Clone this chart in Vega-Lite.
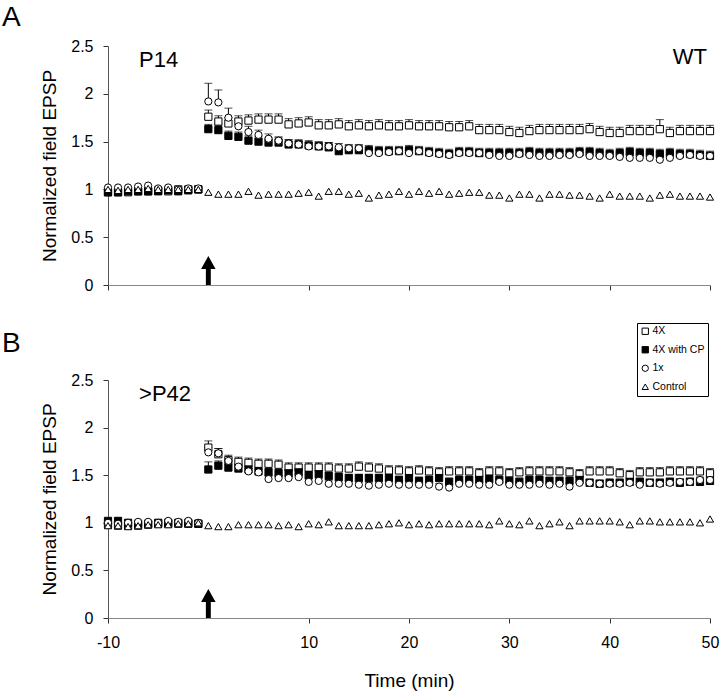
{
"$schema":"https://vega.github.io/schema/vega-lite/v6.json",
"padding":{"left":2,"top":4,"right":4,"bottom":4},
"config":{"font":"Liberation Sans","view":{"stroke":null},
"axis":{"grid":false,"domainColor":"#555","tickColor":"#333","labelColor":"black","titleColor":"black","titleFontWeight":"normal","labelFontSize":16,"titleFontSize":19,"tickSize":5,"labelFont":"Liberation Sans","titleFont":"Liberation Sans","labelFlush":false},
"title":{"fontWeight":"normal","color":"black","font":"Liberation Sans"},
"legend":{"labelFontSize":10.5,"symbolSize":40,"rowPadding":7.5,"padding":3,"strokeColor":"black","fillColor":"white","labelOffset":2,"symbolStrokeWidth":1,"symbolStrokeColor":"black","labelColor":"black","labelFont":"Liberation Sans"}},
"resolve":{"scale":{"shape":"independent","fill":"independent","stroke":"independent"},"legend":{"shape":"independent","fill":"independent","stroke":"independent"}},
"spacing":29,
"datasets":{
"A":[
{"s":"4X","t":-10,"v":0.97},{"s":"4X","t":-9,"v":0.97},{"s":"4X","t":-8,"v":0.97},{"s":"4X","t":-7,"v":0.98},{"s":"4X","t":-6,"v":0.98},{"s":"4X","t":-5,"v":0.99},{"s":"4X","t":-4,"v":0.98},{"s":"4X","t":-3,"v":1.00},{"s":"4X","t":-2,"v":1.00},{"s":"4X","t":-1,"v":1.00},
{"s":"4X","t":0,"v":1.76,"h":1.83},{"s":"4X","t":1,"v":1.71,"h":1.77},{"s":"4X","t":2,"v":1.69,"h":1.75},{"s":"4X","t":3,"v":1.71,"h":1.77},{"s":"4X","t":4,"v":1.72,"h":1.78},{"s":"4X","t":5,"v":1.73,"h":1.79},{"s":"4X","t":6,"v":1.73,"h":1.79},{"s":"4X","t":7,"v":1.73,"h":1.79},{"s":"4X","t":8,"v":1.68,"h":1.74},{"s":"4X","t":9,"v":1.69,"h":1.75},{"s":"4X","t":10,"v":1.70,"h":1.76},{"s":"4X","t":11,"v":1.67,"h":1.73},{"s":"4X","t":12,"v":1.67,"h":1.73},{"s":"4X","t":13,"v":1.68,"h":1.74},{"s":"4X","t":14,"v":1.66,"h":1.72},{"s":"4X","t":15,"v":1.67,"h":1.73},
{"s":"4X","t":16,"v":1.66,"h":1.72},{"s":"4X","t":17,"v":1.67,"h":1.73},{"s":"4X","t":18,"v":1.66,"h":1.72},{"s":"4X","t":19,"v":1.66,"h":1.72},{"s":"4X","t":20,"v":1.67,"h":1.73},{"s":"4X","t":21,"v":1.66,"h":1.72},{"s":"4X","t":22,"v":1.66,"h":1.72},{"s":"4X","t":23,"v":1.66,"h":1.72},{"s":"4X","t":24,"v":1.65,"h":1.71},{"s":"4X","t":25,"v":1.65,"h":1.71},{"s":"4X","t":26,"v":1.66,"h":1.72},{"s":"4X","t":27,"v":1.62,"h":1.68},{"s":"4X","t":28,"v":1.62,"h":1.68},{"s":"4X","t":29,"v":1.62,"h":1.68},{"s":"4X","t":30,"v":1.60,"h":1.66},{"s":"4X","t":31,"v":1.59,"h":1.65},{"s":"4X","t":32,"v":1.61,"h":1.67},{"s":"4X","t":33,"v":1.62,"h":1.68},{"s":"4X","t":34,"v":1.62,"h":1.68},{"s":"4X","t":35,"v":1.62,"h":1.68},{"s":"4X","t":36,"v":1.62,"h":1.68},{"s":"4X","t":37,"v":1.62,"h":1.68},{"s":"4X","t":38,"v":1.63,"h":1.69},{"s":"4X","t":39,"v":1.60,"h":1.66},{"s":"4X","t":40,"v":1.59,"h":1.65},{"s":"4X","t":41,"v":1.59,"h":1.65},{"s":"4X","t":42,"v":1.61,"h":1.67},{"s":"4X","t":43,"v":1.61,"h":1.67},{"s":"4X","t":44,"v":1.61,"h":1.67},{"s":"4X","t":45,"v":1.63,"h":1.73},{"s":"4X","t":46,"v":1.59,"h":1.65},{"s":"4X","t":47,"v":1.61,"h":1.67},{"s":"4X","t":48,"v":1.61,"h":1.67},{"s":"4X","t":49,"v":1.61,"h":1.67},{"s":"4X","t":50,"v":1.61,"h":1.67},
{"s":"4X with CP","t":-10,"v":0.97},{"s":"4X with CP","t":-9,"v":0.97},{"s":"4X with CP","t":-8,"v":0.98},{"s":"4X with CP","t":-7,"v":0.98},{"s":"4X with CP","t":-6,"v":0.98},{"s":"4X with CP","t":-5,"v":0.98},{"s":"4X with CP","t":-4,"v":0.99},{"s":"4X with CP","t":-3,"v":0.98},{"s":"4X with CP","t":-2,"v":0.99},{"s":"4X with CP","t":-1,"v":1.00},
{"s":"4X with CP","t":0,"v":1.63,"h":1.68},{"s":"4X with CP","t":1,"v":1.62,"h":1.67},{"s":"4X with CP","t":2,"v":1.56,"h":1.61},{"s":"4X with CP","t":3,"v":1.55,"h":1.60},{"s":"4X with CP","t":4,"v":1.51,"h":1.56},{"s":"4X with CP","t":5,"v":1.50,"h":1.55},{"s":"4X with CP","t":6,"v":1.49,"h":1.54},{"s":"4X with CP","t":7,"v":1.49,"h":1.54},{"s":"4X with CP","t":8,"v":1.47,"h":1.52},{"s":"4X with CP","t":9,"v":1.47,"h":1.52},{"s":"4X with CP","t":10,"v":1.46,"h":1.51},{"s":"4X with CP","t":11,"v":1.45,"h":1.50},{"s":"4X with CP","t":12,"v":1.44,"h":1.49},{"s":"4X with CP","t":13,"v":1.40,"h":1.45},{"s":"4X with CP","t":14,"v":1.41,"h":1.46},{"s":"4X with CP","t":15,"v":1.41,"h":1.46},
{"s":"4X with CP","t":16,"v":1.41,"h":1.46},{"s":"4X with CP","t":17,"v":1.40,"h":1.45},{"s":"4X with CP","t":18,"v":1.40,"h":1.45},{"s":"4X with CP","t":19,"v":1.40,"h":1.45},{"s":"4X with CP","t":20,"v":1.41,"h":1.46},{"s":"4X with CP","t":21,"v":1.40,"h":1.45},{"s":"4X with CP","t":22,"v":1.39,"h":1.44},{"s":"4X with CP","t":23,"v":1.38,"h":1.43},{"s":"4X with CP","t":24,"v":1.37,"h":1.42},{"s":"4X with CP","t":25,"v":1.39,"h":1.44},{"s":"4X with CP","t":26,"v":1.39,"h":1.44},{"s":"4X with CP","t":27,"v":1.38,"h":1.43},{"s":"4X with CP","t":28,"v":1.38,"h":1.43},{"s":"4X with CP","t":29,"v":1.38,"h":1.43},{"s":"4X with CP","t":30,"v":1.38,"h":1.43},{"s":"4X with CP","t":31,"v":1.38,"h":1.43},{"s":"4X with CP","t":32,"v":1.39,"h":1.44},{"s":"4X with CP","t":33,"v":1.38,"h":1.43},{"s":"4X with CP","t":34,"v":1.38,"h":1.43},{"s":"4X with CP","t":35,"v":1.38,"h":1.43},{"s":"4X with CP","t":36,"v":1.38,"h":1.43},{"s":"4X with CP","t":37,"v":1.39,"h":1.44},{"s":"4X with CP","t":38,"v":1.39,"h":1.44},{"s":"4X with CP","t":39,"v":1.38,"h":1.43},{"s":"4X with CP","t":40,"v":1.37,"h":1.42},{"s":"4X with CP","t":41,"v":1.38,"h":1.43},{"s":"4X with CP","t":42,"v":1.39,"h":1.44},{"s":"4X with CP","t":43,"v":1.38,"h":1.43},{"s":"4X with CP","t":44,"v":1.38,"h":1.43},{"s":"4X with CP","t":45,"v":1.37,"h":1.42},{"s":"4X with CP","t":46,"v":1.38,"h":1.43},{"s":"4X with CP","t":47,"v":1.37,"h":1.42},{"s":"4X with CP","t":48,"v":1.37,"h":1.42},{"s":"4X with CP","t":49,"v":1.36,"h":1.41},{"s":"4X with CP","t":50,"v":1.35,"h":1.40},
{"s":"1x","t":-10,"v":1.02},{"s":"1x","t":-9,"v":1.02},{"s":"1x","t":-8,"v":1.02},{"s":"1x","t":-7,"v":1.03},{"s":"1x","t":-6,"v":1.04},{"s":"1x","t":-5,"v":1.01},{"s":"1x","t":-4,"v":1.02},{"s":"1x","t":-3,"v":1.00},{"s":"1x","t":-2,"v":1.01},{"s":"1x","t":-1,"v":1.01},
{"s":"1x","t":0,"v":1.92,"h":2.11},{"s":"1x","t":1,"v":1.91,"h":2.04},{"s":"1x","t":2,"v":1.75,"h":1.85},{"s":"1x","t":3,"v":1.66,"h":1.72},{"s":"1x","t":4,"v":1.60,"h":1.66},{"s":"1x","t":5,"v":1.57,"h":1.62},{"s":"1x","t":6,"v":1.53,"h":1.58},{"s":"1x","t":7,"v":1.51,"h":1.55},{"s":"1x","t":8,"v":1.48,"h":1.52},{"s":"1x","t":9,"v":1.47,"h":1.51},{"s":"1x","t":10,"v":1.45,"h":1.49},{"s":"1x","t":11,"v":1.45,"h":1.49},{"s":"1x","t":12,"v":1.45,"h":1.49},{"s":"1x","t":13,"v":1.44,"h":1.48},{"s":"1x","t":14,"v":1.43,"h":1.47},{"s":"1x","t":15,"v":1.43,"h":1.47},
{"s":"1x","t":16,"v":1.38,"h":1.42},{"s":"1x","t":17,"v":1.38,"h":1.42},{"s":"1x","t":18,"v":1.39,"h":1.43},{"s":"1x","t":19,"v":1.40,"h":1.44},{"s":"1x","t":20,"v":1.38,"h":1.42},{"s":"1x","t":21,"v":1.40,"h":1.44},{"s":"1x","t":22,"v":1.38,"h":1.42},{"s":"1x","t":23,"v":1.37,"h":1.41},{"s":"1x","t":24,"v":1.36,"h":1.40},{"s":"1x","t":25,"v":1.38,"h":1.42},{"s":"1x","t":26,"v":1.38,"h":1.42},{"s":"1x","t":27,"v":1.38,"h":1.42},{"s":"1x","t":28,"v":1.36,"h":1.40},{"s":"1x","t":29,"v":1.35,"h":1.39},{"s":"1x","t":30,"v":1.35,"h":1.39},{"s":"1x","t":31,"v":1.37,"h":1.41},{"s":"1x","t":32,"v":1.36,"h":1.40},{"s":"1x","t":33,"v":1.35,"h":1.39},{"s":"1x","t":34,"v":1.35,"h":1.39},{"s":"1x","t":35,"v":1.36,"h":1.40},{"s":"1x","t":36,"v":1.36,"h":1.40},{"s":"1x","t":37,"v":1.37,"h":1.41},{"s":"1x","t":38,"v":1.35,"h":1.39},{"s":"1x","t":39,"v":1.35,"h":1.39},{"s":"1x","t":40,"v":1.35,"h":1.39},{"s":"1x","t":41,"v":1.34,"h":1.38},{"s":"1x","t":42,"v":1.33,"h":1.37},{"s":"1x","t":43,"v":1.33,"h":1.37},{"s":"1x","t":44,"v":1.33,"h":1.37},{"s":"1x","t":45,"v":1.31,"h":1.35},{"s":"1x","t":46,"v":1.33,"h":1.37},{"s":"1x","t":47,"v":1.35,"h":1.39},{"s":"1x","t":48,"v":1.36,"h":1.40},{"s":"1x","t":49,"v":1.35,"h":1.39},{"s":"1x","t":50,"v":1.35,"h":1.39},
{"s":"Control","t":-10,"v":1.00},{"s":"Control","t":-9,"v":0.99},{"s":"Control","t":-8,"v":1.00},{"s":"Control","t":-7,"v":1.00},{"s":"Control","t":-6,"v":1.01},{"s":"Control","t":-5,"v":1.00},{"s":"Control","t":-4,"v":1.00},{"s":"Control","t":-3,"v":1.00},{"s":"Control","t":-2,"v":1.00},{"s":"Control","t":-1,"v":1.00},
{"s":"Control","t":0,"v":0.97},{"s":"Control","t":1,"v":0.95},{"s":"Control","t":2,"v":0.95},{"s":"Control","t":3,"v":0.95},{"s":"Control","t":4,"v":0.98},{"s":"Control","t":5,"v":0.94},{"s":"Control","t":6,"v":0.95},{"s":"Control","t":7,"v":0.95},{"s":"Control","t":8,"v":0.95},{"s":"Control","t":9,"v":0.96},{"s":"Control","t":10,"v":0.97},{"s":"Control","t":11,"v":0.93},{"s":"Control","t":12,"v":0.98},{"s":"Control","t":13,"v":0.98},{"s":"Control","t":14,"v":0.95},{"s":"Control","t":15,"v":0.96},
{"s":"Control","t":16,"v":0.91},{"s":"Control","t":17,"v":0.94},{"s":"Control","t":18,"v":0.95},{"s":"Control","t":19,"v":0.98},{"s":"Control","t":20,"v":0.95},{"s":"Control","t":21,"v":0.98},{"s":"Control","t":22,"v":0.96},{"s":"Control","t":23,"v":0.98},{"s":"Control","t":24,"v":0.95},{"s":"Control","t":25,"v":0.96},{"s":"Control","t":26,"v":0.97},{"s":"Control","t":27,"v":0.97},{"s":"Control","t":28,"v":0.94},{"s":"Control","t":29,"v":0.94},{"s":"Control","t":30,"v":0.91},{"s":"Control","t":31,"v":0.95},{"s":"Control","t":32,"v":0.95},{"s":"Control","t":33,"v":0.91},{"s":"Control","t":34,"v":0.95},{"s":"Control","t":35,"v":0.95},{"s":"Control","t":36,"v":0.94},{"s":"Control","t":37,"v":0.94},{"s":"Control","t":38,"v":0.93},{"s":"Control","t":39,"v":0.91},{"s":"Control","t":40,"v":0.95},{"s":"Control","t":41,"v":0.93},{"s":"Control","t":42,"v":0.93},{"s":"Control","t":43,"v":0.93},{"s":"Control","t":44,"v":0.91},{"s":"Control","t":45,"v":0.94},{"s":"Control","t":46,"v":0.95},{"s":"Control","t":47,"v":0.93},{"s":"Control","t":48,"v":0.93},{"s":"Control","t":49,"v":0.93},{"s":"Control","t":50,"v":0.92}
],
"B":[
{"s":"4X","t":-10,"v":0.98},{"s":"4X","t":-9,"v":0.97},{"s":"4X","t":-8,"v":0.97},{"s":"4X","t":-7,"v":0.97},{"s":"4X","t":-6,"v":0.98},{"s":"4X","t":-5,"v":0.99},{"s":"4X","t":-4,"v":0.99},{"s":"4X","t":-3,"v":0.99},{"s":"4X","t":-2,"v":1.00},{"s":"4X","t":-1,"v":0.99},
{"s":"4X","t":0,"v":1.79,"h":1.86},{"s":"4X","t":1,"v":1.72,"h":1.78},{"s":"4X","t":2,"v":1.66,"h":1.71},{"s":"4X","t":3,"v":1.64,"h":1.69},{"s":"4X","t":4,"v":1.63,"h":1.68},{"s":"4X","t":5,"v":1.62,"h":1.67},{"s":"4X","t":6,"v":1.62,"h":1.67},{"s":"4X","t":7,"v":1.61,"h":1.66},{"s":"4X","t":8,"v":1.58,"h":1.63},{"s":"4X","t":9,"v":1.58,"h":1.63},{"s":"4X","t":10,"v":1.58,"h":1.63},{"s":"4X","t":11,"v":1.58,"h":1.63},{"s":"4X","t":12,"v":1.58,"h":1.63},{"s":"4X","t":13,"v":1.57,"h":1.62},{"s":"4X","t":14,"v":1.57,"h":1.62},{"s":"4X","t":15,"v":1.59,"h":1.64},
{"s":"4X","t":16,"v":1.58,"h":1.63},{"s":"4X","t":17,"v":1.57,"h":1.62},{"s":"4X","t":18,"v":1.55,"h":1.60},{"s":"4X","t":19,"v":1.55,"h":1.60},{"s":"4X","t":20,"v":1.54,"h":1.59},{"s":"4X","t":21,"v":1.55,"h":1.60},{"s":"4X","t":22,"v":1.54,"h":1.59},{"s":"4X","t":23,"v":1.53,"h":1.58},{"s":"4X","t":24,"v":1.54,"h":1.59},{"s":"4X","t":25,"v":1.54,"h":1.59},{"s":"4X","t":26,"v":1.54,"h":1.59},{"s":"4X","t":27,"v":1.52,"h":1.57},{"s":"4X","t":28,"v":1.54,"h":1.59},{"s":"4X","t":29,"v":1.54,"h":1.59},{"s":"4X","t":30,"v":1.52,"h":1.57},{"s":"4X","t":31,"v":1.53,"h":1.58},{"s":"4X","t":32,"v":1.54,"h":1.59},{"s":"4X","t":33,"v":1.54,"h":1.59},{"s":"4X","t":34,"v":1.54,"h":1.59},{"s":"4X","t":35,"v":1.54,"h":1.59},{"s":"4X","t":36,"v":1.53,"h":1.58},{"s":"4X","t":37,"v":1.51,"h":1.56},{"s":"4X","t":38,"v":1.54,"h":1.59},{"s":"4X","t":39,"v":1.54,"h":1.59},{"s":"4X","t":40,"v":1.54,"h":1.59},{"s":"4X","t":41,"v":1.52,"h":1.57},{"s":"4X","t":42,"v":1.50,"h":1.55},{"s":"4X","t":43,"v":1.53,"h":1.58},{"s":"4X","t":44,"v":1.53,"h":1.58},{"s":"4X","t":45,"v":1.53,"h":1.58},{"s":"4X","t":46,"v":1.54,"h":1.59},{"s":"4X","t":47,"v":1.54,"h":1.59},{"s":"4X","t":48,"v":1.54,"h":1.59},{"s":"4X","t":49,"v":1.54,"h":1.59},{"s":"4X","t":50,"v":1.52,"h":1.57},
{"s":"4X with CP","t":-10,"v":1.02},{"s":"4X with CP","t":-9,"v":1.02},{"s":"4X with CP","t":-8,"v":1.00},{"s":"4X with CP","t":-7,"v":0.99},{"s":"4X with CP","t":-6,"v":0.99},{"s":"4X with CP","t":-5,"v":1.00},{"s":"4X with CP","t":-4,"v":1.00},{"s":"4X with CP","t":-3,"v":1.00},{"s":"4X with CP","t":-2,"v":0.99},{"s":"4X with CP","t":-1,"v":0.99},
{"s":"4X with CP","t":0,"v":1.56,"h":1.64},{"s":"4X with CP","t":1,"v":1.60,"h":1.65},{"s":"4X with CP","t":2,"v":1.58,"h":1.62},{"s":"4X with CP","t":3,"v":1.57,"h":1.61},{"s":"4X with CP","t":4,"v":1.56,"h":1.60},{"s":"4X with CP","t":5,"v":1.54,"h":1.58},{"s":"4X with CP","t":6,"v":1.53,"h":1.57},{"s":"4X with CP","t":7,"v":1.52,"h":1.56},{"s":"4X with CP","t":8,"v":1.52,"h":1.56},{"s":"4X with CP","t":9,"v":1.53,"h":1.57},{"s":"4X with CP","t":10,"v":1.50,"h":1.54},{"s":"4X with CP","t":11,"v":1.51,"h":1.55},{"s":"4X with CP","t":12,"v":1.49,"h":1.53},{"s":"4X with CP","t":13,"v":1.48,"h":1.52},{"s":"4X with CP","t":14,"v":1.47,"h":1.51},{"s":"4X with CP","t":15,"v":1.47,"h":1.51},
{"s":"4X with CP","t":16,"v":1.47,"h":1.51},{"s":"4X with CP","t":17,"v":1.47,"h":1.51},{"s":"4X with CP","t":18,"v":1.47,"h":1.51},{"s":"4X with CP","t":19,"v":1.45,"h":1.49},{"s":"4X with CP","t":20,"v":1.47,"h":1.51},{"s":"4X with CP","t":21,"v":1.44,"h":1.48},{"s":"4X with CP","t":22,"v":1.45,"h":1.49},{"s":"4X with CP","t":23,"v":1.47,"h":1.51},{"s":"4X with CP","t":24,"v":1.43,"h":1.47},{"s":"4X with CP","t":25,"v":1.45,"h":1.49},{"s":"4X with CP","t":26,"v":1.45,"h":1.49},{"s":"4X with CP","t":27,"v":1.45,"h":1.49},{"s":"4X with CP","t":28,"v":1.46,"h":1.50},{"s":"4X with CP","t":29,"v":1.45,"h":1.49},{"s":"4X with CP","t":30,"v":1.44,"h":1.48},{"s":"4X with CP","t":31,"v":1.43,"h":1.47},{"s":"4X with CP","t":32,"v":1.45,"h":1.49},{"s":"4X with CP","t":33,"v":1.45,"h":1.49},{"s":"4X with CP","t":34,"v":1.44,"h":1.48},{"s":"4X with CP","t":35,"v":1.44,"h":1.48},{"s":"4X with CP","t":36,"v":1.44,"h":1.48},{"s":"4X with CP","t":37,"v":1.45,"h":1.49},{"s":"4X with CP","t":38,"v":1.42,"h":1.46},{"s":"4X with CP","t":39,"v":1.41,"h":1.45},{"s":"4X with CP","t":40,"v":1.42,"h":1.46},{"s":"4X with CP","t":41,"v":1.42,"h":1.46},{"s":"4X with CP","t":42,"v":1.43,"h":1.47},{"s":"4X with CP","t":43,"v":1.43,"h":1.47},{"s":"4X with CP","t":44,"v":1.42,"h":1.46},{"s":"4X with CP","t":45,"v":1.42,"h":1.46},{"s":"4X with CP","t":46,"v":1.43,"h":1.47},{"s":"4X with CP","t":47,"v":1.42,"h":1.46},{"s":"4X with CP","t":48,"v":1.43,"h":1.47},{"s":"4X with CP","t":49,"v":1.43,"h":1.47},{"s":"4X with CP","t":50,"v":1.44,"h":1.48},
{"s":"1x","t":-10,"v":1.00},{"s":"1x","t":-9,"v":0.99},{"s":"1x","t":-8,"v":1.00},{"s":"1x","t":-7,"v":1.01},{"s":"1x","t":-6,"v":1.01},{"s":"1x","t":-5,"v":1.00},{"s":"1x","t":-4,"v":1.02},{"s":"1x","t":-3,"v":1.01},{"s":"1x","t":-2,"v":1.02},{"s":"1x","t":-1,"v":1.00},
{"s":"1x","t":0,"v":1.74,"h":1.79},{"s":"1x","t":1,"v":1.73,"h":1.78},{"s":"1x","t":2,"v":1.65,"h":1.68},{"s":"1x","t":3,"v":1.59,"h":1.62},{"s":"1x","t":4,"v":1.54,"h":1.57},{"s":"1x","t":5,"v":1.53,"h":1.56},{"s":"1x","t":6,"v":1.46,"h":1.49},{"s":"1x","t":7,"v":1.47,"h":1.50},{"s":"1x","t":8,"v":1.47,"h":1.50},{"s":"1x","t":9,"v":1.48,"h":1.51},{"s":"1x","t":10,"v":1.43,"h":1.46},{"s":"1x","t":11,"v":1.44,"h":1.47},{"s":"1x","t":12,"v":1.41,"h":1.44},{"s":"1x","t":13,"v":1.41,"h":1.44},{"s":"1x","t":14,"v":1.41,"h":1.44},{"s":"1x","t":15,"v":1.40,"h":1.43},
{"s":"1x","t":16,"v":1.39,"h":1.42},{"s":"1x","t":17,"v":1.40,"h":1.43},{"s":"1x","t":18,"v":1.41,"h":1.44},{"s":"1x","t":19,"v":1.40,"h":1.43},{"s":"1x","t":20,"v":1.40,"h":1.43},{"s":"1x","t":21,"v":1.40,"h":1.43},{"s":"1x","t":22,"v":1.40,"h":1.43},{"s":"1x","t":23,"v":1.38,"h":1.41},{"s":"1x","t":24,"v":1.37,"h":1.40},{"s":"1x","t":25,"v":1.41,"h":1.44},{"s":"1x","t":26,"v":1.41,"h":1.44},{"s":"1x","t":27,"v":1.40,"h":1.43},{"s":"1x","t":28,"v":1.40,"h":1.43},{"s":"1x","t":29,"v":1.43,"h":1.46},{"s":"1x","t":30,"v":1.40,"h":1.43},{"s":"1x","t":31,"v":1.40,"h":1.43},{"s":"1x","t":32,"v":1.40,"h":1.43},{"s":"1x","t":33,"v":1.41,"h":1.44},{"s":"1x","t":34,"v":1.40,"h":1.43},{"s":"1x","t":35,"v":1.41,"h":1.44},{"s":"1x","t":36,"v":1.38,"h":1.41},{"s":"1x","t":37,"v":1.42,"h":1.45},{"s":"1x","t":38,"v":1.42,"h":1.45},{"s":"1x","t":39,"v":1.41,"h":1.44},{"s":"1x","t":40,"v":1.41,"h":1.44},{"s":"1x","t":41,"v":1.41,"h":1.44},{"s":"1x","t":42,"v":1.42,"h":1.45},{"s":"1x","t":43,"v":1.40,"h":1.43},{"s":"1x","t":44,"v":1.42,"h":1.45},{"s":"1x","t":45,"v":1.41,"h":1.44},{"s":"1x","t":46,"v":1.42,"h":1.45},{"s":"1x","t":47,"v":1.43,"h":1.46},{"s":"1x","t":48,"v":1.43,"h":1.46},{"s":"1x","t":49,"v":1.45,"h":1.48},{"s":"1x","t":50,"v":1.45,"h":1.48},
{"s":"Control","t":-10,"v":0.97},{"s":"Control","t":-9,"v":0.97},{"s":"Control","t":-8,"v":0.96},{"s":"Control","t":-7,"v":0.97},{"s":"Control","t":-6,"v":0.98},{"s":"Control","t":-5,"v":0.98},{"s":"Control","t":-4,"v":0.98},{"s":"Control","t":-3,"v":0.99},{"s":"Control","t":-2,"v":0.99},{"s":"Control","t":-1,"v":1.00},
{"s":"Control","t":0,"v":0.97},{"s":"Control","t":1,"v":0.96},{"s":"Control","t":2,"v":0.96},{"s":"Control","t":3,"v":0.98},{"s":"Control","t":4,"v":0.98},{"s":"Control","t":5,"v":0.98},{"s":"Control","t":6,"v":0.98},{"s":"Control","t":7,"v":0.97},{"s":"Control","t":8,"v":0.98},{"s":"Control","t":9,"v":0.96},{"s":"Control","t":10,"v":0.99},{"s":"Control","t":11,"v":0.98},{"s":"Control","t":12,"v":1.01},{"s":"Control","t":13,"v":0.97},{"s":"Control","t":14,"v":0.97},{"s":"Control","t":15,"v":0.97},
{"s":"Control","t":16,"v":0.97},{"s":"Control","t":17,"v":0.98},{"s":"Control","t":18,"v":0.99},{"s":"Control","t":19,"v":1.00},{"s":"Control","t":20,"v":0.98},{"s":"Control","t":21,"v":0.99},{"s":"Control","t":22,"v":0.98},{"s":"Control","t":23,"v":0.99},{"s":"Control","t":24,"v":0.99},{"s":"Control","t":25,"v":0.99},{"s":"Control","t":26,"v":0.99},{"s":"Control","t":27,"v":0.99},{"s":"Control","t":28,"v":0.98},{"s":"Control","t":29,"v":1.02},{"s":"Control","t":30,"v":0.99},{"s":"Control","t":31,"v":0.98},{"s":"Control","t":32,"v":1.02},{"s":"Control","t":33,"v":0.97},{"s":"Control","t":34,"v":0.99},{"s":"Control","t":35,"v":1.01},{"s":"Control","t":36,"v":0.97},{"s":"Control","t":37,"v":1.02},{"s":"Control","t":38,"v":1.02},{"s":"Control","t":39,"v":1.02},{"s":"Control","t":40,"v":1.02},{"s":"Control","t":41,"v":1.01},{"s":"Control","t":42,"v":0.98},{"s":"Control","t":43,"v":1.02},{"s":"Control","t":44,"v":1.02},{"s":"Control","t":45,"v":1.01},{"s":"Control","t":46,"v":1.01},{"s":"Control","t":47,"v":1.01},{"s":"Control","t":48,"v":1.01},{"s":"Control","t":49,"v":1.00},{"s":"Control","t":50,"v":1.04}
]},
"vconcat":[
{"width":602,"height":239,
"title":{"text":"A","anchor":"start","frame":"group","dx":-106,"fontSize":28,"offset":6},
"layer":[
{"data":{"name":"A"},"transform":[{"filter":"isValid(datum.h)"}],"mark":{"type":"rule","color":"black","strokeWidth":1},
"encoding":{"x":{"field":"t","type":"quantitative","title":null,"scale":{"domain":[-10,50],"nice":false,"zero":false},"axis":{"values":[-10,10,20,30,40,50],"labels":false,"domainColor":"#888"}},
"y":{"field":"v","type":"quantitative","title":"Normalized field EPSP","scale":{"domain":[0,2.5],"nice":false},"axis":{"values":[0,0.5,1,1.5,2,2.5],"format":"~g","labelPadding":10,"titlePadding":11}},"y2":{"field":"h"}}},
{"data":{"name":"A"},"transform":[{"filter":"isValid(datum.h)"}],"mark":{"type":"tick","orient":"horizontal","color":"black","size":8,"thickness":1},
"encoding":{"x":{"field":"t","type":"quantitative","title":null},"y":{"field":"h","type":"quantitative","title":"Normalized field EPSP"}}},
{"data":{"name":"A"},"mark":{"type":"point","filled":true,"strokeWidth":1,"size":52,"opacity":1},
"encoding":{"x":{"field":"t","type":"quantitative","title":null},"y":{"field":"v","type":"quantitative","title":"Normalized field EPSP"},
"shape":{"field":"s","type":"nominal","scale":{"domain":["4X","4X with CP","1x","Control"],"range":["square","square","circle","triangle-up"]},"legend":null},
"fill":{"field":"s","type":"nominal","scale":{"domain":["4X","4X with CP","1x","Control"],"range":["white","black","white","white"]},"legend":null},
"stroke":{"field":"s","type":"nominal","scale":{"domain":["4X","4X with CP","1x","Control"],"range":["black","black","black","black"]},"legend":null}}},
{"data":{"values":[{}]},"mark":{"type":"text","text":"P14","fontSize":22,"align":"left","baseline":"alphabetic","color":"black"},"encoding":{"x":{"datum":-6.9},"y":{"datum":2.28}}},
{"data":{"values":[{}]},"mark":{"type":"text","text":"WT","fontSize":22,"align":"right","baseline":"alphabetic","color":"black"},"encoding":{"x":{"datum":49.7},"y":{"datum":2.31}}},
{"data":{"values":[{}]},"mark":{"type":"point","shape":"M0,-1L0.5,-0.1L0.17,-0.1L0.17,1L-0.17,1L-0.17,-0.1L-0.5,-0.1Z","size":841,"filled":true,"color":"black","opacity":1,"strokeWidth":0},"encoding":{"x":{"datum":0},"y":{"datum":0.152}}}
]},
{"width":602,"height":238,
"title":{"text":"B","anchor":"start","frame":"group","dx":-106,"fontSize":28,"offset":-35},
"layer":[
{"data":{"name":"B"},"transform":[{"filter":"isValid(datum.h)"}],"mark":{"type":"rule","color":"black","strokeWidth":1},
"encoding":{"x":{"field":"t","type":"quantitative","title":"Time (min)","scale":{"domain":[-10,50],"nice":false,"zero":false},"axis":{"values":[-10,10,20,30,40,50],"labelExpr":"'' + datum.value","labelPadding":11,"titlePadding":21,"domainColor":"#888"}},
"y":{"field":"v","type":"quantitative","title":"Normalized field EPSP","scale":{"domain":[0,2.5],"nice":false},"axis":{"values":[0,0.5,1,1.5,2,2.5],"format":"~g","labelPadding":10,"titlePadding":11}},"y2":{"field":"h"}}},
{"data":{"name":"B"},"transform":[{"filter":"isValid(datum.h)"}],"mark":{"type":"tick","orient":"horizontal","color":"black","size":8,"thickness":1},
"encoding":{"x":{"field":"t","type":"quantitative","title":"Time (min)"},"y":{"field":"h","type":"quantitative","title":"Normalized field EPSP"}}},
{"data":{"name":"B"},"mark":{"type":"point","filled":true,"strokeWidth":1,"size":52,"opacity":1},
"encoding":{"x":{"field":"t","type":"quantitative","title":"Time (min)"},"y":{"field":"v","type":"quantitative","title":"Normalized field EPSP"},
"shape":{"field":"s","type":"nominal","scale":{"domain":["4X","4X with CP","1x","Control"],"range":["square","square","circle","triangle-up"]},"legend":{"title":null,"orient":"none","legendX":529,"legendY":-57}},
"fill":{"field":"s","type":"nominal","scale":{"domain":["4X","4X with CP","1x","Control"],"range":["white","black","white","white"]},"legend":{"title":null,"orient":"none","legendX":529,"legendY":-57}},
"stroke":{"field":"s","type":"nominal","scale":{"domain":["4X","4X with CP","1x","Control"],"range":["black","black","black","black"]},"legend":{"title":null,"orient":"none","legendX":529,"legendY":-57}}}},
{"data":{"values":[{}]},"mark":{"type":"text","text":">P42","fontSize":22,"align":"left","baseline":"alphabetic","color":"black"},"encoding":{"x":{"datum":-6.9},"y":{"datum":2.28}}},
{"data":{"values":[{}]},"mark":{"type":"point","shape":"M0,-1L0.5,-0.1L0.17,-0.1L0.17,1L-0.17,1L-0.17,-0.1L-0.5,-0.1Z","size":841,"filled":true,"color":"black","opacity":1,"strokeWidth":0},"encoding":{"x":{"datum":0},"y":{"datum":0.152}}}
]}
]}
